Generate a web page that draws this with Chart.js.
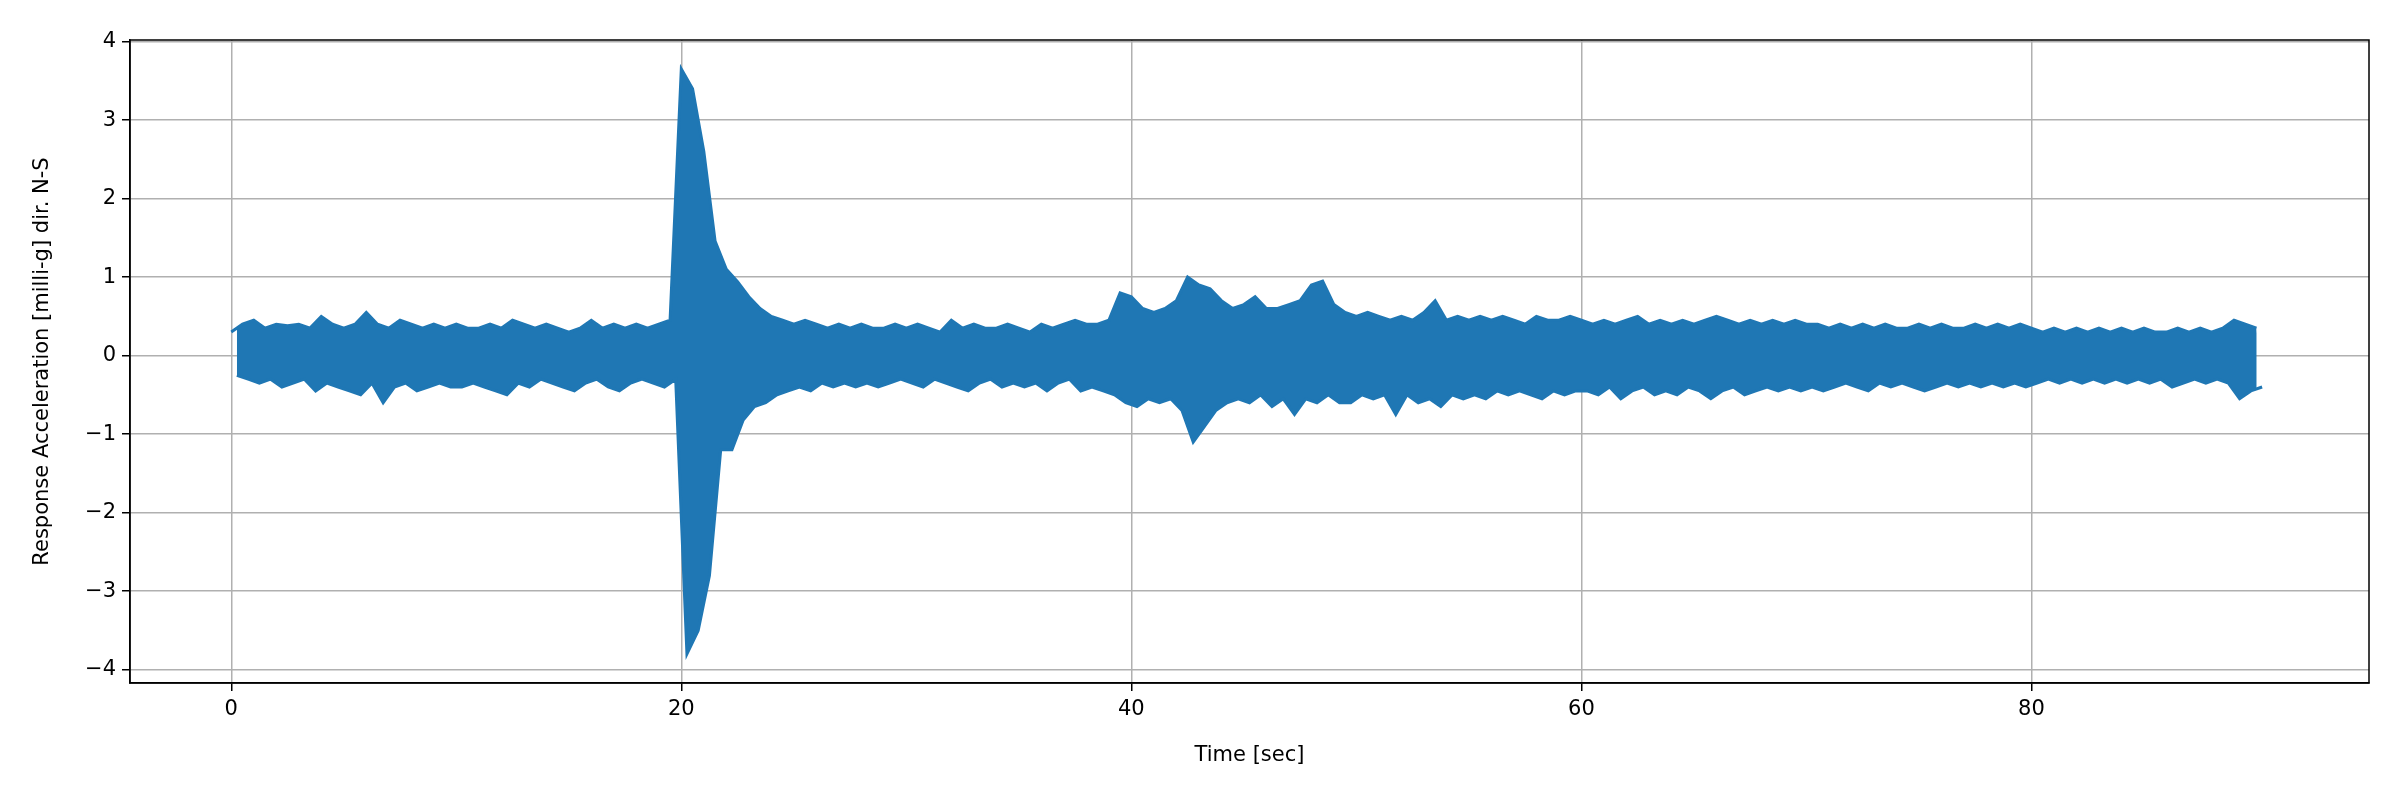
<!DOCTYPE html>
<html><head><meta charset="utf-8">
<script src="https://cdn.jsdelivr.net/npm/chart.js@4/dist/chart.umd.min.js"></script>
<style>html,body{margin:0;padding:0;background:#fff}#w{width:2400px;height:800px}</style>
</head><body><div id="w"><canvas id="c"></canvas></div>
<script>
// Envelope of the signal: per 0.5 s segment, the upper and lower peaks (milli-g)
const segmentStart = 0, segmentSec = 0.5;
const upperPeaks = [
0.3,0.4,0.45,0.35,0.4,0.38,0.4,0.35,0.5,0.4,0.35,0.4,0.55,0.4,0.35,0.45,0.4,0.35,0.4,0.35,
0.4,0.35,0.35,0.4,0.35,0.45,0.4,0.35,0.4,0.35,0.3,0.35,0.45,0.35,0.4,0.35,0.4,0.35,0.4,0.45,
3.65,3.4,2.6,1.46,1.1,0.94,0.75,0.6,0.5,0.45,0.4,0.45,0.4,0.35,0.4,0.35,0.4,0.35,0.35,0.4,
0.35,0.4,0.35,0.3,0.45,0.35,0.4,0.35,0.35,0.4,0.35,0.3,0.4,0.35,0.4,0.45,0.4,0.4,0.45,0.8,
0.75,0.6,0.55,0.6,0.7,1.0,0.9,0.85,0.7,0.6,0.65,0.75,0.6,0.6,0.65,0.7,0.9,0.95,0.65,0.55,
0.5,0.55,0.5,0.45,0.5,0.45,0.55,0.7,0.45,0.5,0.45,0.5,0.45,0.5,0.45,0.4,0.5,0.45,0.45,0.5,
0.45,0.4,0.45,0.4,0.45,0.5,0.4,0.45,0.4,0.45,0.4,0.45,0.5,0.45,0.4,0.45,0.4,0.45,0.4,0.45,
0.4,0.4,0.35,0.4,0.35,0.4,0.35,0.4,0.35,0.35,0.4,0.35,0.4,0.35,0.35,0.4,0.35,0.4,0.35,0.4,
0.35,0.3,0.35,0.3,0.35,0.3,0.35,0.3,0.35,0.3,0.35,0.3,0.3,0.35,0.3,0.35,0.3,0.35,0.45,0.4,0.35];
const lowerPeaks = [
-0.25,-0.3,-0.35,-0.3,-0.4,-0.35,-0.3,-0.45,-0.35,-0.4,-0.45,-0.5,-0.35,-0.6,-0.4,-0.35,-0.45,-0.4,-0.35,-0.4,
-0.4,-0.35,-0.4,-0.45,-0.5,-0.35,-0.4,-0.3,-0.35,-0.4,-0.45,-0.35,-0.3,-0.4,-0.45,-0.35,-0.3,-0.35,-0.4,-0.3,
-3.8,-3.5,-2.8,-1.2,-1.2,-0.82,-0.65,-0.6,-0.5,-0.45,-0.4,-0.45,-0.35,-0.4,-0.35,-0.4,-0.35,-0.4,-0.35,-0.3,
-0.35,-0.4,-0.3,-0.35,-0.4,-0.45,-0.35,-0.3,-0.4,-0.35,-0.4,-0.35,-0.45,-0.35,-0.3,-0.45,-0.4,-0.45,-0.5,-0.6,
-0.65,-0.55,-0.6,-0.55,-0.7,-1.1,-0.9,-0.7,-0.6,-0.55,-0.6,-0.5,-0.65,-0.55,-0.75,-0.55,-0.6,-0.5,-0.6,-0.6,
-0.5,-0.55,-0.5,-0.75,-0.5,-0.6,-0.55,-0.65,-0.5,-0.55,-0.5,-0.55,-0.45,-0.5,-0.45,-0.5,-0.55,-0.45,-0.5,-0.45,
-0.45,-0.5,-0.4,-0.55,-0.45,-0.4,-0.5,-0.45,-0.5,-0.4,-0.45,-0.55,-0.45,-0.4,-0.5,-0.45,-0.4,-0.45,-0.4,-0.45,
-0.4,-0.45,-0.4,-0.35,-0.4,-0.45,-0.35,-0.4,-0.35,-0.4,-0.45,-0.4,-0.35,-0.4,-0.35,-0.4,-0.35,-0.4,-0.35,-0.4,
-0.35,-0.3,-0.35,-0.3,-0.35,-0.3,-0.35,-0.3,-0.35,-0.3,-0.35,-0.3,-0.4,-0.35,-0.3,-0.35,-0.3,-0.35,-0.55,-0.45,-0.4];
const xTicks = [0,20,40,60,80];
const yTicks = [-4,-3,-2,-1,0,1,2,3,4];

const up = [], lo = [];
for (let i = 0; i < upperPeaks.length; i++) {
  const t = Math.min(90.5, segmentStart + i * segmentSec);
  up.push({x: t, y: upperPeaks[i]});
  lo.push({x: Math.min(90.5, t + segmentSec/2), y: lowerPeaks[i]});
}
const F = "'DejaVu Sans'";
const C = '#1f77b4';
const fmt = v => String(v).replace('-', '\u2212');
const frame = {id:'frame', afterDatasetsDraw(c){const a=c.chartArea,x=c.ctx;x.save();x.strokeStyle='#000';x.lineWidth=1.5;x.strokeRect(a.left,a.top,a.right-a.left,a.bottom-a.top);x.restore();}};
new Chart(document.getElementById('c'), {
  type: 'line',
  data: {datasets: [
    {data: up, borderColor: C, borderWidth: 3, pointRadius: 0, tension: 0, fill: false},
    {data: lo, borderColor: C, backgroundColor: C, borderWidth: 3, pointRadius: 0, tension: 0, fill: '-1'}
  ]},
  options: {
    responsive: true, maintainAspectRatio: false, animation: false,
    layout: {padding: {top: 40, right: 31, left: 26, bottom: 28}},
    plugins: {legend: {display: false}, tooltip: {enabled: false}},
    scales: {
      x: {type: 'linear', min: -4.5, max: 95,
        afterBuildTicks: s => { s.ticks = xTicks.map(v => ({value: v})); },
        afterFit: s => { s.height = 89; },
        grid: {color: '#b0b0b0', lineWidth: 1.5, tickColor: '#000', tickLength: 8},
        border: {color: '#000', width: 1.5},
        ticks: {color: '#000', font: {family: F, size: 21}, padding: 6, callback: fmt, maxRotation: 0},
        title: {display: true, text: 'Time [sec]', color: '#000', font: {family: F, size: 21}, padding: {top: 4}}},
      y: {type: 'linear', min: -4.17, max: 4.02,
        afterBuildTicks: s => { s.ticks = yTicks.map(v => ({value: v})); },
        afterFit: s => { s.width = 104; },
        grid: {color: '#b0b0b0', lineWidth: 1.5, tickColor: '#000', tickLength: 8},
        border: {color: '#000', width: 1.5},
        ticks: {color: '#000', font: {family: F, size: 21}, padding: 6, callback: fmt},
        title: {display: true, text: 'Response Acceleration [milli-g] dir. N-S', color: '#000', font: {family: F, size: 21}, padding: {bottom: 4}}}
    }
  },
  plugins: [frame]
});
</script></body></html>
